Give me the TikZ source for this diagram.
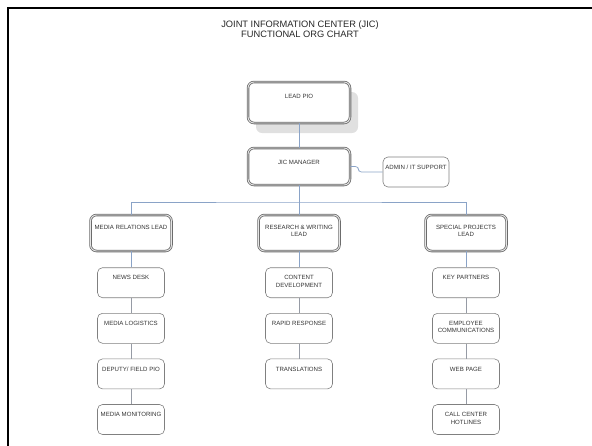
\documentclass[tikz,border=0pt]{standalone}
\usepackage{fontspec}
\setmainfont{Liberation Sans}
\usetikzlibrary{positioning}
\usetikzlibrary{shadows, calc}
\definecolor{linkblue}{RGB}{138,163,199}
\definecolor{boxgray}{RGB}{128,128,128}
\definecolor{chaingray}{RGB}{150,155,165}

\begin{document}
\begin{tikzpicture}[x=1pt, y=-1pt,
  box/.style={draw=boxgray, line width=0.6pt, rounded corners=5pt, fill=white, minimum width=67pt, minimum height=30pt, inner sep=0pt},
  leadbox/.style={box, draw=gray!85!black, line width=0.8pt, double=gray!20, double distance=0.9pt, rounded corners=6pt, minimum width=81pt, minimum height=36pt},
  txt/.style={font=\fontsize{6.1}{7.4}\selectfont, align=center, text=black!80, inner sep=0pt},
  unit/.style={box, label={[txt, anchor=north, yshift=-8pt]north:#1}},
  lead/.style={leadbox, label={[txt, anchor=north, yshift=-10pt]north:#1}},
  toplead/.style={leadbox, minimum width=102pt, label={[txt, anchor=north, yshift=-12pt]north:#1}},
  link/.style={draw=linkblue, line width=0.7pt},
  chain/.style={draw=chaingray, line width=0.7pt}]
  \useasboundingbox (0,0) rectangle (592,445);
  \draw[line width=2pt] (8,450) -- (8,8) -- (600,8);

  \node[font=\fontsize{9.3}{10}\selectfont, align=center, text=black!85] (title) at (300,29.5) {JOINT INFORMATION CENTER (JIC)\\FUNCTIONAL ORG CHART};

  \node[toplead={LEAD PIO}, minimum height=41pt, drop shadow={shadow xshift=8pt, shadow yshift=-10pt, fill=gray!40, opacity=0.6}] (pio) at (299,102.5) {};
  \node[toplead={JIC MANAGER}, minimum height=37pt] (jic) at (299,166.5) {};
  \node[unit={ADMIN / IT SUPPORT}, minimum width=66pt] (admin) at (416,172) {};

  \node[lead={MEDIA RELATIONS LEAD}] (media) at (131,233) {};
  \node[lead={RESEARCH \& WRITING\\LEAD}] (research) at (299,233) {};
  \node[lead={SPECIAL PROJECTS\\LEAD}] (special) at (466,233) {};

  \node[unit={NEWS DESK}, below=16pt of media] (newsdesk) {};
  \node[unit={MEDIA LOGISTICS}, below=15pt of newsdesk] (logistics) {};
  \node[unit={DEPUTY/ FIELD PIO}, below=15pt of logistics] (deputy) {};
  \node[unit={MEDIA MONITORING}, below=15pt of deputy] (monitoring) {};

  \node[unit={CONTENT\\DEVELOPMENT}, below=16pt of research] (content) {};
  \node[unit={RAPID RESPONSE}, below=15pt of content] (rapid) {};
  \node[unit={TRANSLATIONS}, below=15pt of rapid] (translations) {};

  \node[unit={KEY PARTNERS}, below=16pt of special] (partners) {};
  \node[unit={EMPLOYEE\\COMMUNICATIONS}, below=15pt of partners] (employee) {};
  \node[unit={WEB PAGE}, below=15pt of employee] (webpage) {};
  \node[unit={CALL CENTER\\HOTLINES}, below=15pt of webpage] (hotlines) {};

  \coordinate (bus) at (299,202);
  \draw[link] (pio) -- (jic);
  \draw[link, rounded corners=3pt] (jic.east) -- ++(8,0) |- (admin.west);
  \draw[link] (jic) -- (research);
  \draw[link] (media) |- (bus) -| (special);

  \draw[link] (media) -- (newsdesk);
  \draw[chain] (newsdesk) -- (logistics);
  \draw[chain] (logistics) -- (deputy);
  \draw[chain] (deputy) -- (monitoring);
  \draw[link] (research) -- (content);
  \draw[chain] (content) -- (rapid);
  \draw[chain] (rapid) -- (translations);
  \draw[link] (special) -- (partners);
  \draw[chain] (partners) -- (employee);
  \draw[chain] (employee) -- (webpage);
  \draw[chain] (webpage) -- (hotlines);
\end{tikzpicture}
\end{document}
